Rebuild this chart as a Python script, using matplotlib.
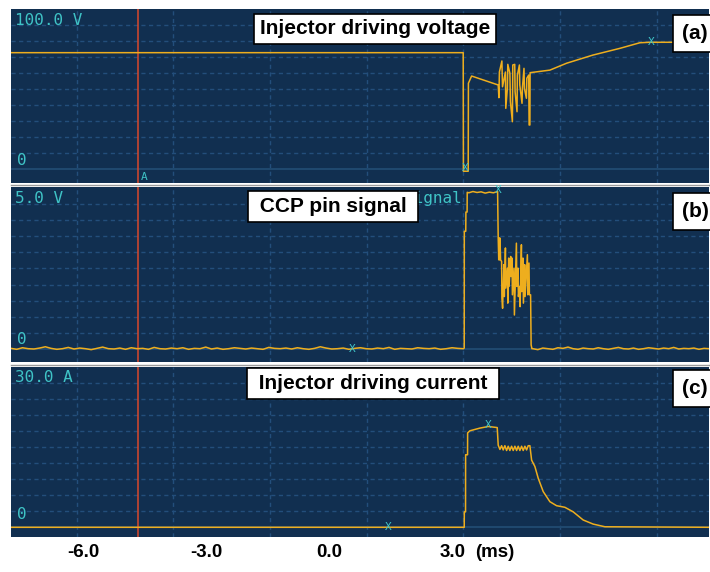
import numpy as np
import matplotlib
matplotlib.use('Agg')
import matplotlib.pyplot as plt

plt.rcParams['font.family'] = ['Liberation Sans', 'DejaVu Sans']

# time axis in ms
t_a = [-7.77, 3.263, 3.268, 3.385, 3.390, 3.468, 4.117,
       4.134, 4.146, 4.207, 4.222, 4.293, 4.302, 4.341, 4.351, 4.402, 4.415,
       4.463, 4.473, 4.520, 4.529, 4.576, 4.585, 4.634, 4.644, 4.698, 4.707,
       4.746, 4.756, 4.805, 4.815, 4.861, 4.871, 4.890, 4.895,
       5.378, 5.785, 6.427, 7.085, 7.573, 7.817, 9.26]
volt_a = [72.9, 72.9, -1.2, -1.2, 53.8, 58.3, 52.7,
          44.75, 60.8, 67.7, 51.6, 60.8, 38.1, 50.8, 65.6, 60.0, 42.25,
          29.75, 65.2, 65.6, 48.5, 36.0, 58.9, 65.2, 52.7, 41.25, 50.6,
          63.1, 50.6, 44.4, 56.9, 58.9, 27.7, 27.7, 60.4,
          62.0, 66.3, 71.4, 75.6, 79.1, 79.4, 79.4]

# CCP pin signal (V)
ccp_pre = [0.01, -0.02, 0.03, 0.00, -0.01, 0.02, 0.06, 0.01, -0.02, 0.00,
           0.04, -0.01, 0.02, 0.00, -0.03, 0.01, 0.05, 0.00, -0.01, 0.02,
           -0.02, 0.03, 0.00, 0.01, -0.02, 0.04, 0.00, -0.01, 0.02, 0.00,
           0.03, -0.02, 0.01, 0.00, 0.05, -0.01, 0.02, -0.02, 0.00, 0.03,
           0.01, -0.01, 0.02, 0.00, -0.02, 0.04, 0.01, 0.00, 0.02, -0.01,
           0.03, 0.00, -0.02, 0.01, 0.06, 0.02, -0.01, 0.00, 0.02, -0.02,
           0.01, 0.03, 0.00, -0.01, 0.02, 0.00, 0.04, -0.02, 0.01, 0.00,
           -0.01, 0.03, 0.01, 0.00, 0.02, -0.02, 0.00, 0.03, 0.01, 0.00]
t_pulse_b = [3.288, 3.290, 3.325, 3.329, 3.358, 3.361,
             3.40, 3.50, 3.60, 3.70, 3.80, 3.90, 4.00, 4.102,
             4.117, 4.13, 4.14, 4.15, 4.16, 4.175,
             4.200, 4.207, 4.224, 4.256, 4.266, 4.293, 4.302, 4.341, 4.351,
             4.373, 4.383, 4.422, 4.432, 4.454, 4.463, 4.502, 4.512, 4.561,
             4.571, 4.600, 4.610, 4.641, 4.651, 4.683, 4.693, 4.722, 4.732,
             4.763, 4.773, 4.829, 4.839, 4.868, 4.878, 4.907, 4.920, 4.939]
ccp_pulse = [0.02, 3.66, 3.66, 4.26, 4.26, 4.875,
             4.86, 4.90, 4.87, 4.89, 4.85, 4.88, 4.86, 4.90,
             3.45, 2.77, 3.45, 2.77, 3.45, 2.77,
             2.72, 1.575, 1.26, 2.62, 1.625, 3.14, 1.89, 2.51, 1.42,
             2.825, 1.94, 2.875, 2.25, 2.825, 1.68, 2.51, 1.05, 3.29,
             1.94, 2.51, 1.625, 1.94, 1.31, 3.24, 1.78, 2.825, 1.42,
             2.62, 1.625, 2.93, 1.68, 2.67, 1.68, 1.68, 0.12, 0.0]
ccp_post = [0.0, -0.03, 0.02, 0.00, -0.02, 0.03, 0.01, 0.05, 0.00, -0.02,
            0.02, 0.00, -0.01, 0.03, 0.00, -0.02, 0.01, 0.04, 0.00, -0.01,
            0.02, -0.02, 0.00, 0.03, 0.01, -0.01, 0.02, 0.00, 0.04, -0.01,
            0.01, 0.00, 0.02, -0.02, 0.01, 0.00]

# injector current (A)
t_c = [-7.77, 3.288, 3.290, 3.320, 3.322, 3.369, 3.371, 3.427, 3.671, 3.873,
       4.093, 4.117, 4.159, 4.200, 4.239, 4.280, 4.322, 4.361, 4.402, 4.444,
       4.483, 4.524, 4.566, 4.605, 4.646, 4.688, 4.727, 4.768, 4.810, 4.849,
       4.890, 4.932, 5.012, 5.093, 5.215, 5.378, 5.541, 5.744, 5.946, 6.190,
       6.434, 6.720, 9.26]
amp_c = [0.0, 0.0, 2.9, 2.9, 13.6, 13.6, 17.7, 18.1, 18.6, 18.9,
         18.7, 15.4, 14.6, 15.3, 14.5, 15.3, 14.4, 15.2, 14.4, 15.2,
         14.4, 15.2, 14.4, 15.2, 14.4, 15.2, 14.4, 15.2, 14.5, 15.3,
         15.3, 12.6, 11.4, 9.2, 6.7, 4.8, 4.05, 3.75, 2.9, 1.37,
         0.6, 0.1, 0.0]

# cursor marks
marks_a = ([3.305, 7.84], [0.8, 79.6])
marks_b = ([4.11, 0.549], [4.95, 0.0])
marks_c = ([3.866, 1.427], [19.2, 0.06])
cursor_t = -4.68

tick_ms = [-6, -3, 0, 3]
tick_labels = ['-6.0', '-3.0', '0.0', '3.0']
grid_x = [-6.17, -3.81, -1.45, 0.91, 3.27, 5.63, 7.99]

BG = '#112f50'
GRID = '#234e7b'
TRACE = '#eeae1e'
CYAN = '#3fc3c6'
RED = '#d9482c'
W, H = 710, 572

fig = plt.figure(figsize=(7.1, 5.72), dpi=100)


def px_axes(x0, y0, x1, y1):
    return fig.add_axes([x0 / W, 1 - y1 / H, (x1 - x0) / W, (y1 - y0) / H])


ax_a = px_axes(11, 9, 709, 183.3)
ax_b = px_axes(11, 186.7, 709, 362)
ax_c = px_axes(11, 366.5, 709, 537)

panels = [
    (ax_a, (-8.75, 100.2), np.arange(10, 100, 10), '100.0 V'),
    (ax_b, (-0.415, 5.05), np.arange(0.5, 5.0, 0.5), '5.0 V'),
    (ax_c, (-1.82, 30.15), np.arange(3, 30, 3), '30.0 A'),
]
for ax, ylim, hgrid, scale in panels:
    ax.set_facecolor(BG)
    ax.set_xlim(-7.77, 9.26)
    ax.set_ylim(*ylim)
    for gx in grid_x:
        ax.axvline(gx, color=GRID, lw=1, ls=(0, (3, 2.5)), zorder=1)
    for gy in hgrid:
        ax.axhline(gy, color=GRID, lw=1, ls=(0, (3, 2.5)), zorder=1)
    ax.axhline(0, color='#20496f', lw=1.4, zorder=1)
    ax.axvline(cursor_t, color=RED, lw=1.1, zorder=2)
    ax.set_yticks([])
    ax.tick_params(axis='x', length=0)
    for s in ax.spines.values():
        s.set_visible(False)
    ax.text(0.006, 0.935, scale, transform=ax.transAxes, color=CYAN,
            family='DejaVu Sans Mono', fontsize=11.5, va='center', ha='left')
    ax.text(0.008, 0.13, '0', transform=ax.transAxes, color=CYAN,
            family='DejaVu Sans Mono', fontsize=11.5, va='center', ha='left')

for ax in (ax_b, ax_c):
    ax.spines['top'].set_visible(True)
    ax.spines['top'].set_color('#9a9a9a')
    ax.spines['top'].set_linewidth(1.0)
    ax.spines['top'].set_position(('outward', 1.2))

ax_a.set_xticks([])
ax_b.set_xticks([])

# traces
ax_a.plot(t_a, volt_a, color=TRACE, lw=1.1, zorder=3)
t_pre = np.linspace(-7.77, 3.27, len(ccp_pre))
t_post = np.linspace(4.96, 9.26, len(ccp_post))
ax_b.plot(list(t_pre) + t_pulse_b + list(t_post), ccp_pre + ccp_pulse + ccp_post,
          color=TRACE, lw=1.1, zorder=3)
ax_c.plot(t_c, amp_c, color=TRACE, lw=1.1, zorder=3)

# cursor markers
for ax, (mt, my) in zip((ax_a, ax_b, ax_c), (marks_a, marks_b, marks_c)):
    for x, y in zip(mt, my):
        ax.text(x, y, 'X', color=CYAN, family='DejaVu Sans Mono', fontsize=8,
                ha='center', va='center', zorder=4)
ax_a.text(cursor_t + 0.07, -4.8, 'A', color=CYAN, family='DejaVu Sans Mono',
          fontsize=8, ha='left', va='center', zorder=4)
# scope channel name, mostly hidden behind the caption box
ax_b.text(3.23, 4.68, 'signal', color=CYAN, family='DejaVu Sans Mono',
          fontsize=11.5, ha='right', va='center', zorder=4)

# x axis labels
ax_c.set_xticks(tick_ms, tick_labels)
ax_c.tick_params(axis='x', length=0, pad=5, labelsize=13.5, colors='black')
for lbl in ax_c.get_xticklabels():
    lbl.set_fontweight('bold')
ax_c.set_xlabel('(ms)', fontsize=13.5, fontweight='bold')
ax_c.xaxis.set_label_coords((494.5 - 11) / 698, -0.041)
ax_c.xaxis.label.set_va('top')

# captions
box = dict(boxstyle='square,pad=0.28', fc='white', ec='black', lw=1.2)
box2 = dict(boxstyle='square,pad=0.42', fc='white', ec='black', lw=1.2)
fig.text(375.3 / W, 1 - 29 / H, 'Injector driving voltage', fontsize=15,
         fontweight='bold', ha='center', va='center', bbox=box)
fig.text(333 / W, 1 - 206.7 / H, ' CCP pin signal ', fontsize=15,
         fontweight='bold', ha='center', va='center', bbox=box)
fig.text(373.3 / W, 1 - 383.2 / H, ' Injector driving current ', fontsize=15,
         fontweight='bold', ha='center', va='center', bbox=box)
fig.text(695 / W, 1 - 33.3 / H, '(a)', fontsize=15, fontweight='bold',
         ha='center', va='center', bbox=box2)
fig.text(695 / W, 1 - 211.4 / H, '(b)', fontsize=15, fontweight='bold',
         ha='center', va='center', bbox=box2)
fig.text(695 / W, 1 - 388.3 / H, '(c)', fontsize=15, fontweight='bold',
         ha='center', va='center', bbox=box2)

fig.savefig('out.png', dpi=100, facecolor='white')
